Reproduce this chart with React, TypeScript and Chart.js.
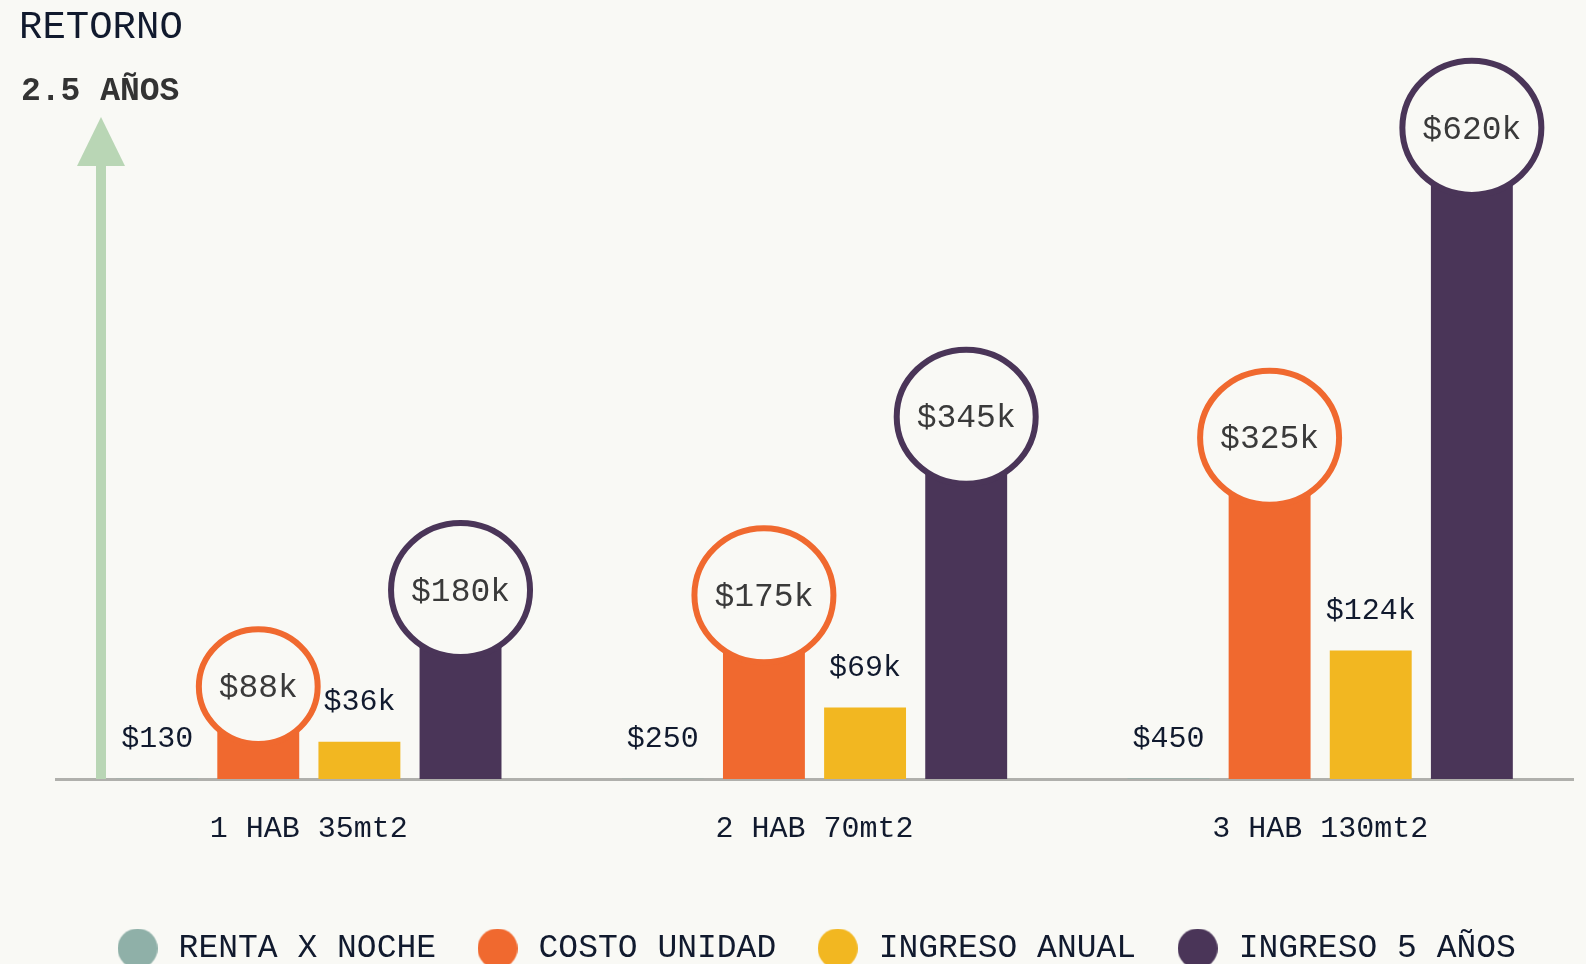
import React, { useEffect, useRef } from "react";
import { Chart, registerables } from "chart.js";

Chart.register(...registerables);

// ---- data ----
const categories = ["1 HAB 35mt2", "2 HAB 70mt2", "3 HAB 130mt2"];
const seriesNames = ["RENTA X NOCHE", "COSTO UNIDAD", "INGRESO ANUAL", "INGRESO 5 AÑOS"];
const rentaXNoche = [130, 250, 450];
const costoUnidad = [88000, 175000, 325000];
const ingresoAnual = [36000, 69000, 124000];
const ingreso5Anos = [180000, 345000, 620000];
const circledSeries = [1, 3];
const yMax = 700000;
const titleText = "RETORNO";
const subtitleText = "2.5 AÑOS";

// ---- styles ----
const BG = "#f9f9f5";
const TEXT = "#111a2e";
const CIRCLE_TEXT = "#3a3a3a";
const MONO = "'Liberation Mono', 'DejaVu Sans Mono', monospace";
const COLORS = ["#8fb0a8", "#f0692f", "#f2b721", "#4a3558"];
const ARROW = "#b9d6b5";

const fmt = (v: number) => (v >= 1000 ? `$${Math.round(v / 1000)}k` : `$${v}`);

function makeDot(color: string) {
  const c = document.createElement("canvas");
  c.width = 40;
  c.height = 40;
  const x = c.getContext("2d")!;
  x.fillStyle = color;
  x.beginPath();
  x.arc(20, 20, 20, 0, Math.PI * 2);
  x.fill();
  return c;
}

const decorPlugin = {
  id: "decor",
  beforeDatasetsDraw(chart: any) {
    const { ctx, chartArea } = chart;
    const base = chart.scales.y.getPixelForValue(0);
    const ax = chartArea.left + 45;
    ctx.save();
    ctx.fillStyle = ARROW;
    ctx.fillRect(ax - 5, 165, 10, base - 165);
    ctx.beginPath();
    ctx.moveTo(ax, 117);
    ctx.lineTo(ax - 24, 166);
    ctx.lineTo(ax + 24, 166);
    ctx.closePath();
    ctx.fill();
    ctx.restore();
  },
  afterDraw(chart: any) {
    const { ctx } = chart;
    ctx.save();
    ctx.textAlign = "left";
    ctx.textBaseline = "alphabetic";
    ctx.fillStyle = TEXT;
    ctx.font = `39px ${MONO}`;
    ctx.fillText(titleText, 19, 38);
    ctx.fillStyle = "#333333";
    ctx.font = `bold 33px ${MONO}`;
    ctx.fillText(subtitleText, 21, 100);
    ctx.restore();
  },
};

const labelPlugin = {
  id: "barLabels",
  afterDatasetsDraw(chart: any) {
    const { ctx } = chart;
    const base = chart.scales.y.getPixelForValue(0);
    chart.data.datasets.forEach((ds: any, di: number) => {
      const meta = chart.getDatasetMeta(di);
      meta.data.forEach((el: any, i: number) => {
        const text = fmt(ds.data[i]);
        const x = el.x;
        const y = el.y;
        ctx.save();
        ctx.textAlign = "center";
        ctx.textBaseline = "middle";
        if (circledSeries.includes(di)) {
          const cy = base - (base - y) * 1.014;
          const outer = Math.min(72.5, base - cy - 30);
          ctx.beginPath();
          ctx.ellipse(x, cy, outer - 3, outer * 0.966 - 3, 0, 0, Math.PI * 2);
          ctx.fillStyle = BG;
          ctx.fill();
          ctx.lineWidth = 6;
          ctx.strokeStyle = ds.backgroundColor;
          ctx.stroke();
          ctx.fillStyle = CIRCLE_TEXT;
          ctx.font = `33px ${MONO}`;
          ctx.fillText(text, x, cy + 2);
        } else {
          ctx.fillStyle = TEXT;
          ctx.font = `30px ${MONO}`;
          ctx.fillText(text, x, y - 39.5);
        }
        ctx.restore();
      });
    });
  },
};

export default function App() {
  const ref = useRef<HTMLCanvasElement>(null);
  useEffect(() => {
    if (!ref.current) return;
    const dots = COLORS.map(makeDot);
    const seriesData = [rentaXNoche, costoUnidad, ingresoAnual, ingreso5Anos];
    const chart = new Chart(ref.current, {
      type: "bar",
      data: {
        labels: categories,
        datasets: seriesNames.map((name, i) => ({
          label: name,
          data: seriesData[i],
          backgroundColor: COLORS[i],
          borderWidth: 0,
          barPercentage: 0.81,
          categoryPercentage: 0.8,
        })),
      },
      options: {
        animation: false,
        responsive: true,
        maintainAspectRatio: false,
        layout: { padding: { left: 56, right: 13, top: 54, bottom: 0 } },
        scales: {
          x: {
            z: 1,
            grid: { display: false, drawTicks: false },
            border: { display: true, color: "#b0b0ac", width: 3 },
            ticks: { padding: 32.5, color: TEXT, font: { family: MONO, size: 30 } },
            afterFit: (s: any) => {
              s.height = 116;
            },
          },
          y: { display: false, min: 0, max: yMax },
        },
        plugins: {
          tooltip: { enabled: false },
          legend: {
            position: "bottom",
            labels: {
              usePointStyle: true,
              pointStyleWidth: 49,
              padding: 37,
              color: TEXT,
              font: { family: MONO, size: 33 },
              generateLabels: (c: any) =>
                c.data.datasets.map((ds: any, i: number) => ({
                  text: ds.label,
                  fillStyle: ds.backgroundColor,
                  strokeStyle: ds.backgroundColor,
                  lineWidth: 0,
                  hidden: false,
                  datasetIndex: i,
                  pointStyle: dots[i],
                  fontColor: TEXT,
                })),
            },
          },
        },
      } as any,
      plugins: [decorPlugin, labelPlugin],
    });
    return () => chart.destroy();
  }, []);
  return (
    <div
      style={{
        position: "absolute",
        left: 0,
        top: 0,
        width: 1586,
        height: 975,
        background: BG,
      }}
    >
      <canvas ref={ref} />
    </div>
  );
}
